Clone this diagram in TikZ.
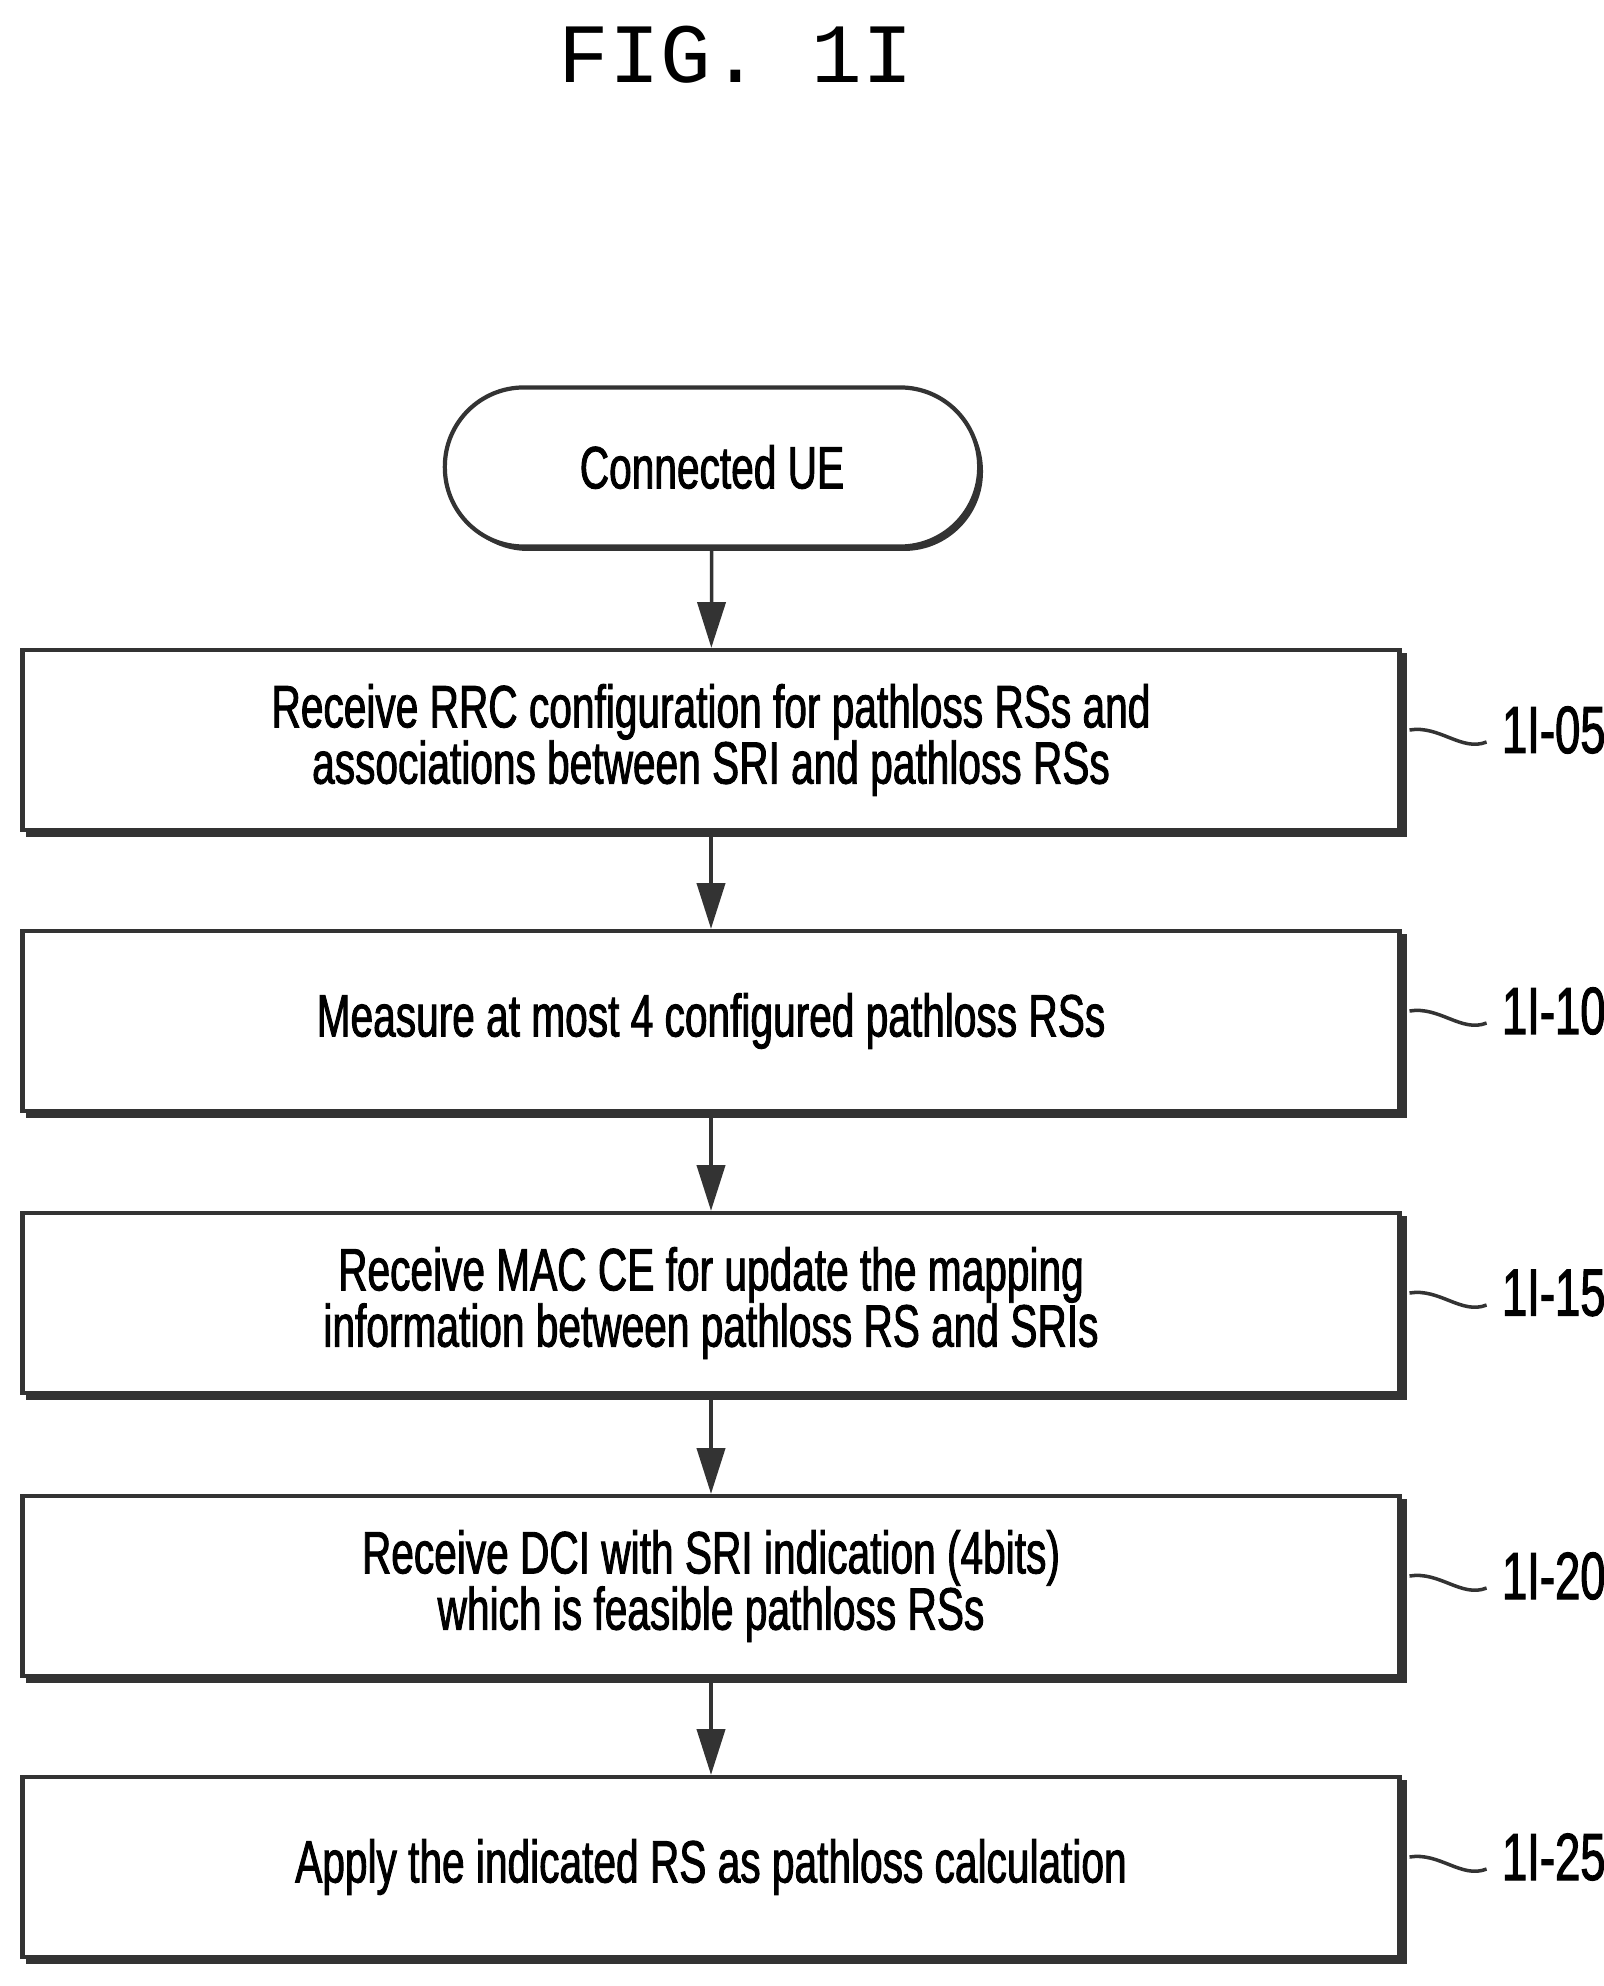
\documentclass[tikz,border=0pt]{standalone}
\usepackage{fontspec}
\setmainfont{Liberation Sans}
\newfontfamily\cond[FakeStretch=0.68,FakeBold=1.5]{Liberation Sans}
\newfontfamily\ttl{Liberation Mono}
\usetikzlibrary{arrows.meta,shadows}
\begin{document}
\begin{tikzpicture}[x=0.01cm,y=-0.01cm,
  stepbox/.style={draw=black!80,line width=1.2pt,fill=white,minimum width=13.76cm,minimum height=1.8cm,align=center,
     font=\cond\fontsize{17}{17}\selectfont,
     copy shadow={shadow xshift=1.5pt,shadow yshift=-1.5pt,draw=black!80,fill=black!80}},
  term/.style={draw=black!80,line width=1.2pt,fill=white,rounded corners=0.79cm,minimum width=5.34cm,minimum height=1.59cm,
     font=\cond\fontsize{17}{17}\selectfont},
  arr/.style={draw=black!80,line width=1pt,-{Triangle[length=13pt,width=8pt]}},
  lab/.style={font=\cond\fontsize{19}{19}\selectfont,anchor=west}]
\useasboundingbox (0,0) rectangle (1604,1986);
\node[font=\ttl\fontsize{24}{24}\selectfont] (title) at (736,55) {FIG. 1I};
\fill[black!80,rounded corners=0.79cm] (449,392) rectangle (983,551);
\node[term] (t) at (712,467) {Connected UE};
\node[stepbox] (b1) at (711,740) {Receive RRC configuration for pathloss RSs and\\[-1pt]associations between SRI and pathloss RSs};
\node[stepbox] (b2) at (711,1021) {Measure at most 4 configured pathloss RSs};
\node[stepbox] (b3) at (711,1303) {Receive MAC CE for update the mapping\\[-1pt]information between pathloss RS and SRIs};
\node[stepbox] (b4) at (711,1586) {Receive DCI with SRI indication (4bits)\\[-1pt]which is feasible pathloss RSs};
\node[stepbox] (b5) at (711,1867) {Apply the indicated RS as pathloss calculation};
\draw[arr] (t) -- (b1);
\draw[arr] (b1) -- (b2);
\draw[arr] (b2) -- (b3);
\draw[arr] (b3) -- (b4);
\draw[arr] (b4) -- (b5);
\foreach \b/\n in {b1/05,b2/10,b3/15,b4/20,b5/25}{
  \node[lab] (l\b) at ([xshift=0.88cm,yshift=0.1cm]\b.east) {1I-\n};
  \draw[black!80,line width=1pt] ([xshift=0.08cm,yshift=0.1cm]\b.east) .. controls +(0.3cm,0.05cm) and +(-0.25cm,-0.1cm) .. ([xshift=-0.03cm,yshift=-0.12cm]l\b.west);
}
\end{tikzpicture}
\end{document}
